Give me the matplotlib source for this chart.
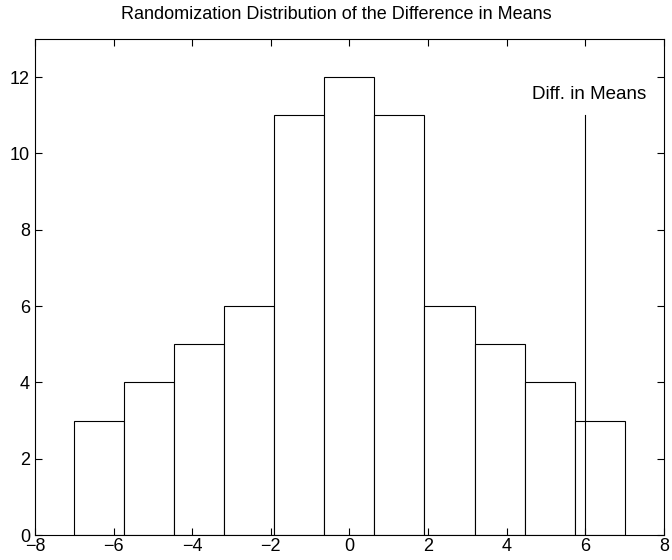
import matplotlib
matplotlib.use("Agg")
import matplotlib.pyplot as plt
import numpy as np

# histogram counts, 11 bins between -7 and 7
counts = [3, 4, 5, 6, 11, 12, 11, 6, 5, 4, 3]
bin_lo, bin_hi = -7.0, 7.0
diff_means = 6.0
diff_height = 11
title = "Randomization Distribution of the Difference in Means"
label = "Diff. in Means"

plt.rcParams['font.family'] = ['Liberation Sans', 'DejaVu Sans']

edges = np.linspace(bin_lo, bin_hi, len(counts) + 1)
width = edges[1] - edges[0]

fig = plt.figure(figsize=(6.72, 5.6), dpi=100)
ax = fig.add_axes([0.052, 0.0446, 0.936, 0.886])
ax.bar(edges[:-1], counts, width=width, align='edge',
       facecolor='white', edgecolor='black', linewidth=0.8)
ax.plot([diff_means, diff_means], [0, diff_height], color='black', linewidth=0.8)
ax.text(diff_means + 0.1, diff_height + 0.43, label, ha='center', va='baseline', fontsize=13.5)

ax.set_xlim(-8, 8)
ax.set_ylim(0, 13)
ax.set_xticks(np.arange(-8, 9, 2))
ax.set_yticks(np.arange(0, 13, 2))
ax.tick_params(direction='in', top=True, right=True, length=5, width=0.8, labelsize=13)
ax.tick_params(axis='x', pad=2.5)
ax.tick_params(axis='y', pad=3.5)
for s in ax.spines.values():
    s.set_linewidth(0.8)
# title sits centred on the figure, not on the axes
ax.set_title(title, fontsize=13, pad=14, x=0.4785)

fig.savefig("out.png", dpi=100)
